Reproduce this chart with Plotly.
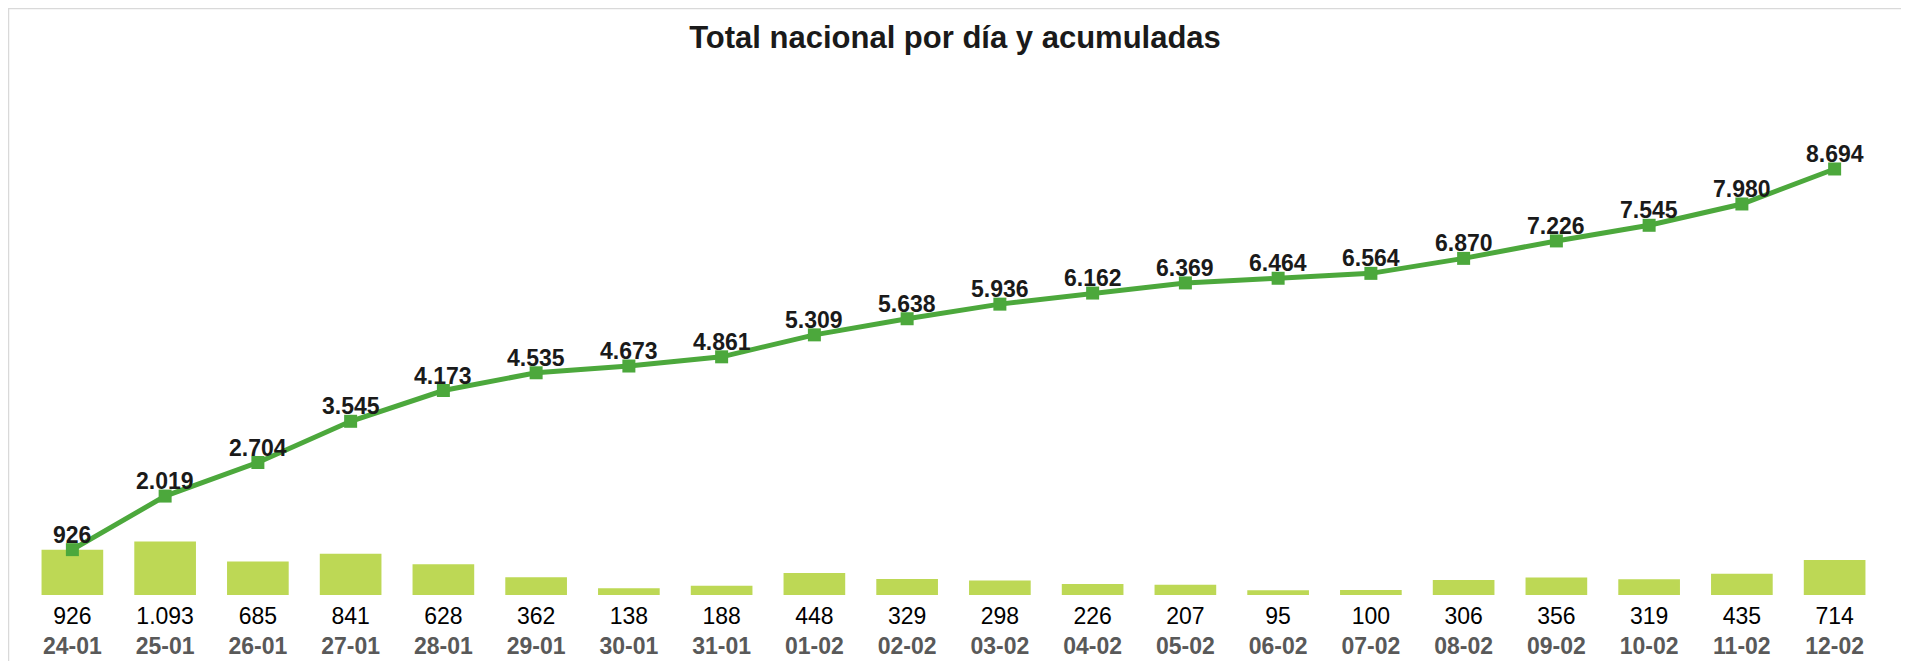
import plotly.graph_objects as go

# ---- data ----
dates = ["24-01", "25-01", "26-01", "27-01", "28-01", "29-01", "30-01", "31-01",
         "01-02", "02-02", "03-02", "04-02", "05-02", "06-02", "07-02", "08-02",
         "09-02", "10-02", "11-02", "12-02"]
daily = [926, 1093, 685, 841, 628, 362, 138, 188, 448, 329, 298, 226, 207, 95,
         100, 306, 356, 319, 435, 714]
cumulative = [926, 2019, 2704, 3545, 4173, 4535, 4673, 4861, 5309, 5638, 5936,
              6162, 6369, 6464, 6564, 6870, 7226, 7545, 7980, 8694]
title_text = "Total nacional por día y acumuladas"

# The page body adds an 8px offset at the top-left, so the figure is 8px smaller.
W, H = 1901, 653
ML, MR, MT, MB = 18, 28, 97, 66
PW, PH = W - ML - MR, H - MT - MB

BAR_COLOR = "#BDD855"
LINE_COLOR = "#4CA83C"
FONT = "Arial, Liberation Sans, sans-serif"


def fmt(v):
    return f"{v:,}".replace(",", ".")


ticktext = [f"{fmt(v)}<br><span style='color:#595959'><b>{d}</b></span>"
            for v, d in zip(daily, dates)]

fig = go.Figure()
fig.add_trace(go.Bar(
    x=dates, y=daily, marker=dict(color=BAR_COLOR, line=dict(width=0)),
    hoverinfo="skip"))
fig.add_trace(go.Scatter(
    x=dates, y=cumulative, mode="lines+markers",
    line=dict(color=LINE_COLOR, width=5),
    marker=dict(symbol="square", size=13, color=LINE_COLOR),
    cliponaxis=False, hoverinfo="skip"))

for d, v in zip(dates, cumulative):
    fig.add_annotation(x=d, y=v, text=f"<b>{fmt(v)}</b>", showarrow=False,
                       xanchor="center", yanchor="middle", yshift=15,
                       font=dict(family=FONT, size=23, color="#1a1a1a"))


def px_x(p):
    return (p - ML) / PW


def px_y(p):
    return (H - MB - p) / PH


fig.add_shape(type="rect", xref="paper", yref="paper",
              x0=px_x(0.5), x1=px_x(1896), y0=px_y(H + 40), y1=px_y(0.5),
              line=dict(color="#D9D9D9", width=1.5), fillcolor="rgba(0,0,0,0)",
              layer="below")

fig.update_layout(
    width=W, height=H,
    margin=dict(l=ML, r=MR, t=MT, b=MB, pad=0, autoexpand=False),
    paper_bgcolor="white", plot_bgcolor="white",
    showlegend=False,
    bargap=0.335,
    separators=",.",
    title=dict(text=title_text, x=947 / W, xanchor="center", y=1 - 29 / H,
               yanchor="middle", automargin=False,
               font=dict(family=FONT, size=31, color="#1a1a1a", weight="bold")),
    xaxis=dict(type="category", tickmode="array", tickvals=dates, ticktext=ticktext,
               showgrid=False, zeroline=False, showline=False, ticks="",
               automargin=False, range=[-0.5, len(dates) - 0.5],
               ticklabelstandoff=5,
               tickfont=dict(family=FONT, size=23, color="#000000")),
    yaxis=dict(range=[0, 10000], visible=False, showgrid=False, zeroline=False,
               automargin=False),
)

fig.write_html("out.html")
